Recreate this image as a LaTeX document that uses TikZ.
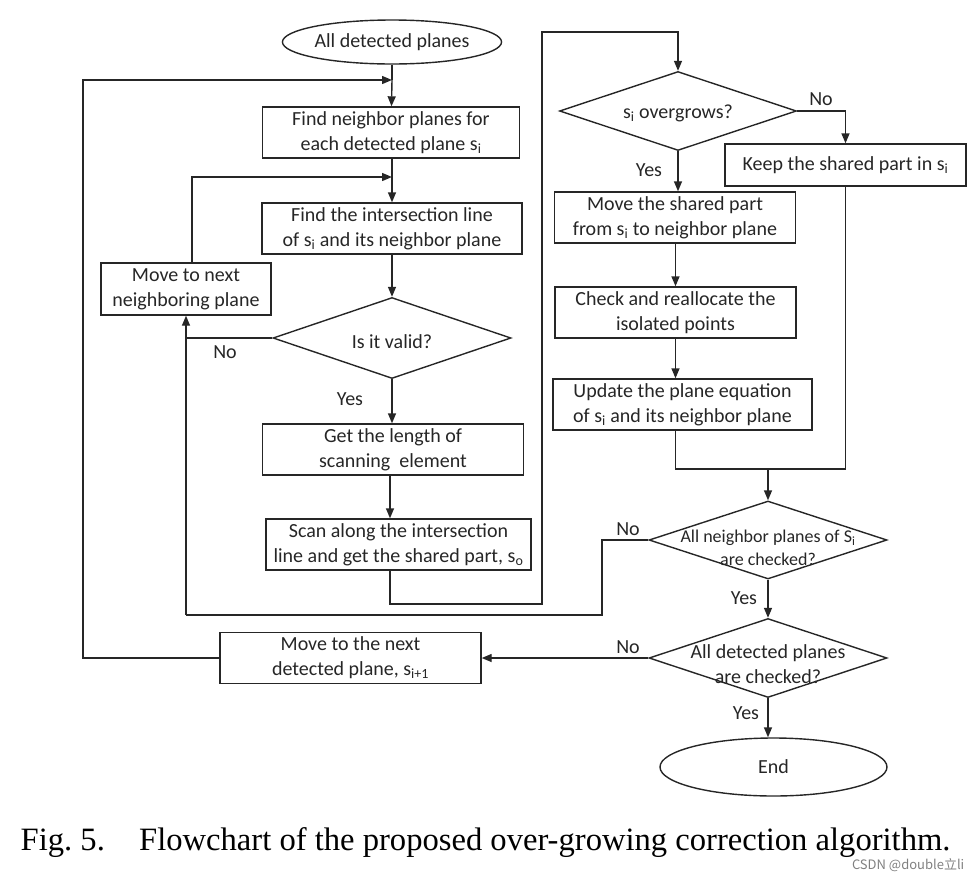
\documentclass[tikz,border=0pt]{standalone}
\usepackage{fontspec}
\setmainfont{Carlito}
\newfontfamily\capfont{Liberation Serif}
\newfontfamily\cjk{Noto Sans CJK SC}
\usetikzlibrary{positioning}
\usetikzlibrary{shapes.geometric}
\usetikzlibrary{arrows.meta}

\definecolor{inkgray}{RGB}{38,38,38}

\begin{document}
\begin{tikzpicture}[x=1pt, y=-1pt, >={Triangle[length=10pt, width=8pt]},
  line width=1.4pt, color=inkgray,
  font=\fontsize{20}{25}\selectfont,
  flowbox/.style 2 args={draw, rectangle, align=center, inner sep=0pt,
    minimum width=#1, minimum height=#2},
  decision/.style 2 args={draw, diamond, inner sep=0pt,
    minimum width=#1, minimum height=#2},
  terminal/.style 2 args={draw, ellipse, inner sep=0pt,
    minimum width=#1, minimum height=#2},
  small text/.style={font=\fontsize{18}{23}\selectfont}]%

\useasboundingbox (0,0) rectangle (980,879);

% left column
\node [terminal={187}{44}] (start) at (392,42) {All detected planes};
\node [flowbox={257}{51}] (findnb) at (391,132.5)
  {Find neighbor planes for\\each detected plane s\textsubscript{i}};
\node [flowbox={260}{51}] (findint) at (392,228.5)
  {Find the intersection line\\of s\textsubscript{i} and its neighbor plane};
\node [flowbox={170}{52}] (movenb) at (186,289) {Move to next\\neighboring plane};
\node [decision={238}{81}, label={[yshift=-4pt]center:Is it valid?}] (valid) at (392,338) {};
\node [flowbox={261}{51}] (getlen) at (393,449.5) {Get the length of\\scanning\ \ element};
\node [flowbox={265}{51}] (scan) at (398.5,544.5)
  {Scan along the intersection\\line and get the shared part, s\textsubscript{o}};
\node [flowbox={261}{51}] (movenext) at (350.5,658)
  {Move to the next\\detected plane, s\textsubscript{i+1}};

% right column
\node [decision={237}{79}, label={[yshift=-2pt]center:s\textsubscript{i} overgrows?}] (overgrow) at (678,111) {};
\node [flowbox={241}{42}] (keep) at (845.5,165) {Keep the shared part in s\textsubscript{i}};
\node [flowbox={241}{51}] (moveshared) at (675,217.5)
  {Move the shared part\\from s\textsubscript{i} to neighbor plane};
\node [flowbox={241}{51}] (check) at (675.5,312.5) {Check and reallocate the\\isolated points};
\node [flowbox={259}{51}] (update) at (682.5,404.5)
  {Update the plane equation\\of s\textsubscript{i} and its neighbor plane};
\node [decision={238}{78}, label={[yshift=-8pt, align=center, small text]center:All neighbor planes of S\textsubscript{i}\\are checked?}] (allnb) at (768,540) {};
\node [decision={238}{79}, label={[yshift=-6pt, align=center]center:All detected planes\\are checked?}] (alldet) at (768,658) {};
\node [terminal={227}{58}] (theend) at (773.5,767) {End};

% bends
\coordinate (join1) at (392,80);
\coordinate (join2) at (392,177);
\coordinate (leftrail) at (83,80);
\coordinate (loopup) at (192,177);
\coordinate (nolink) at (186,338);
\coordinate (rail) at (186,615);
\coordinate (scanout) at (390,604);
\coordinate (midrail) at (542,32);
\coordinate (toprail) at (678,32);
\coordinate (merge) at (768,469);
\coordinate (nostep) at (602,540);

\draw (start) -- (join1);
\draw [->] (join1) -- (findnb);
\draw (findnb.south -| join2) -- (join2);
\draw [->] (join2) -- (findint.north -| join2);
\draw [->] (findint.south -| valid) -- (valid);
\draw (valid.west) -- (nolink);
\draw [->] (rail) -- (movenb);
\draw [->] (movenb.north -| loopup) -- (loopup) -- (join2);
\draw [->] (valid) -- (valid |- getlen.north);
\draw [->] (getlen.south -| scanout) -- (scanout |- scan.north);
\draw [->] (scan.south -| scanout) -- (scanout) -| (midrail) -- (toprail) -- (overgrow);
\draw [->] (overgrow.east) -| (keep.north);
\draw [->] (overgrow) -- (overgrow |- moveshared.north);
\draw [->] (moveshared.south -| check) -- (check.north);
\draw [->] (check) -- (check |- update.north);
\draw (update.south -| check) |- (keep.south |- merge) -- (keep.south);
\draw [->] (merge) -- (allnb);
\draw (allnb.west) -- (nostep) |- (rail);
\draw [->] (allnb) -- (alldet);
\draw [->] (alldet) -- (movenext);
\draw [->] (movenext.west) -| (leftrail) -- (join1);
\draw [->] (alldet) -- (alldet |- theend.north);

% branch labels
\foreach \l/\x/\y [count=\i] in {No/225/352, Yes/350/399, No/821/99, Yes/649/170,
    No/628/529, Yes/744/598, No/628/647, Yes/746/713}
  \node (branch-\i) at (\x,\y) {\l};

% caption
\node [anchor=base west, inner sep=0pt, font=\capfont\fontsize{32.6}{33}\selectfont, text=black]
  (caption) at (20,850) {Fig.~5.\hspace{1.05em}Flowchart of the proposed over-growing correction algorithm.};
\node [anchor=base east, inner sep=0pt, font=\cjk\fontsize{13}{13}\selectfont, text=gray]
  (mark) at (965,869) {CSDN @double立li};

\end{tikzpicture}
\end{document}
